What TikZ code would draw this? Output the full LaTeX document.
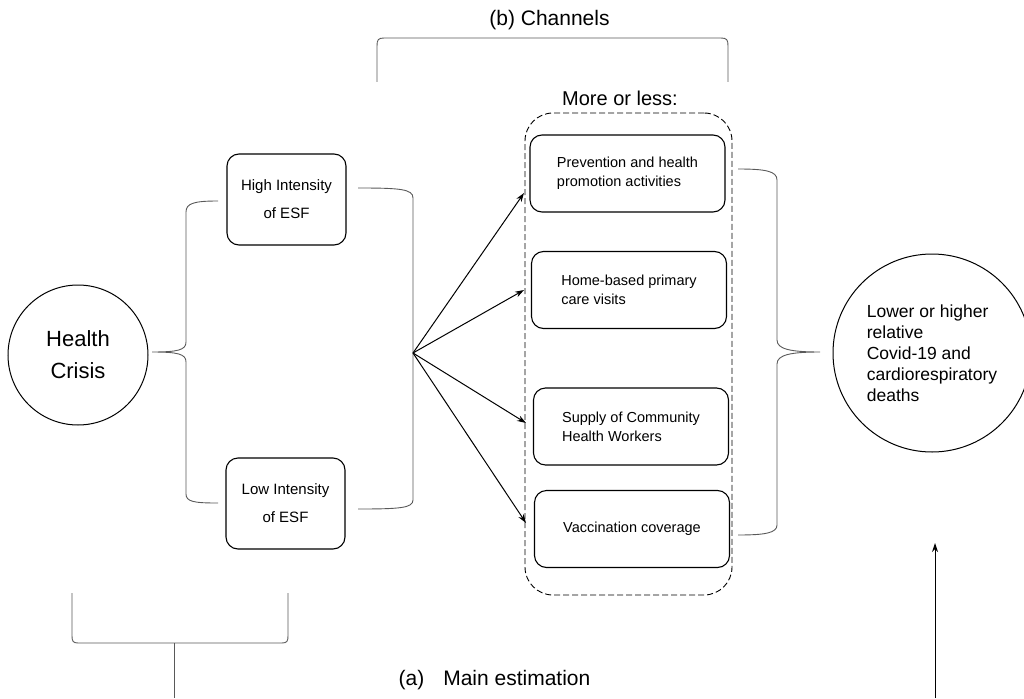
\documentclass[tikz,border=0pt]{standalone}
\usepackage{fontspec}
\setmainfont{Liberation Sans}
\usetikzlibrary{positioning, shapes.geometric, arrows.meta}

\begin{document}
\begin{tikzpicture}[x=1pt, y=-1pt,
        % Define styles for the components
        circ/.style={circle, draw, line width=1pt, inner sep=0pt},
        esf/.style={rectangle, draw, rounded corners=12pt, line width=1.1pt, minimum width=119pt, minimum height=91pt, align=center, font=\fontsize{15}{28}\selectfont},
        channel/.style={rectangle, draw, rounded corners=12pt, line width=1.1pt, minimum width=195pt, minimum height=77pt, align=left, font=\fontsize{14.5}{19}\selectfont},
        dashgroup/.style={rectangle, draw, rounded corners=28pt, line width=0.9pt, dash pattern=on 6pt off 3pt, minimum width=207pt, minimum height=482pt},
        arrow/.style={line width=1pt, -{Stealth[length=9pt, width=6pt]}},
        braceline/.style={draw=black!65, line width=0.9pt},
        heading/.style={font=\fontsize{21}{25}\selectfont}
    ]
    \useasboundingbox (0,0) rectangle (1024,698);

    % Define nodes
    \node[circ, minimum size=140pt, align=center, font=\fontsize{22}{32}\selectfont] (crisis) at (78,355) {Health\\Crisis};
    \node[esf] (high) at (286.5,199.5) {High Intensity\\of ESF};
    \node[esf] (low) at (285.5,503.5) {Low Intensity\\of ESF};

    \node[channel] (prev) at (627.5,173.5) {Prevention and health\\promotion activities};
    \node[channel] (home) at (629,290) {Home-based primary\\care visits};
    \node[channel] (chw) at (631,426.5) {Supply of Community\\Health Workers};
    \node[channel] (vacc) at (632,529) {Vaccination coverage};
    \node[dashgroup] (channels) at (628.5,354) {};
    \node[font=\fontsize{20}{24}\selectfont] (moreless) at (620,98) {More or less:};

    \node[circ, minimum size=198pt, align=left, font=\fontsize{17.5}{21}\selectfont] (deaths) at (932,353) {Lower or higher\\relative\\Covid-19 and\\cardiorespiratory\\deaths};

    \node[heading] (chtitle) at (549.5,20) {(b) Channels};
    \node[heading] (maintitle) at (494.5,680) {(a)\hspace{19pt}Main estimation};

    % Free ends of the connectors
    \coordinate (fan) at (413,353);
    \coordinate (in1) at (524,193);
    \coordinate (in2) at (524,290);
    \coordinate (in3) at (526,423);
    \coordinate (in4) at (526,523);
    \coordinate (upfoot) at (935,698);
    \coordinate (uphead) at (935,543);
    \coordinate (stemtop) at (174,643);
    \coordinate (stemfoot) at (174,698);

    % Braces
    \draw[braceline] (218,201) .. controls (195,201) and (186,203) .. (186,212) -- (186,342)
        .. controls (186,350) and (178,352) .. (152,352)
        .. controls (178,352) and (186,354) .. (186,362) -- (186,494)
        .. controls (186,502) and (195,503) .. (218,503);
    \draw[braceline] (358,188) .. controls (400,188) and (413,189) .. (413,198) -- (413,500)
        .. controls (413,508) and (400,509) .. (358,509);
    \draw[braceline] (738,169) .. controls (765,169) and (777,171) .. (777,180) -- (777,340)
        .. controls (777,349) and (790,352) .. (820,352)
        .. controls (790,352) and (777,355) .. (777,364) -- (777,525)
        .. controls (777,533) and (765,535) .. (738,535);
    \draw[braceline] (377,82) -- (377,46) .. controls (377,40) and (378,38) .. (384,38) -- (721,38)
        .. controls (727,38) and (728,40) .. (728,46) -- (728,82);
    \draw[braceline] (72,593) -- (72,636) .. controls (72,641) and (73,643) .. (78,643) -- (282,643)
        .. controls (287,643) and (288,641) .. (288,636) -- (288,593);
    \draw[braceline] (stemtop) -- (stemfoot);

    % Draw arrows
    \foreach \t in {in1,in2,in3,in4}
        \draw[arrow] (fan) -- (\t);
    \draw[arrow] (upfoot) -- (uphead);
\end{tikzpicture}
\end{document}
